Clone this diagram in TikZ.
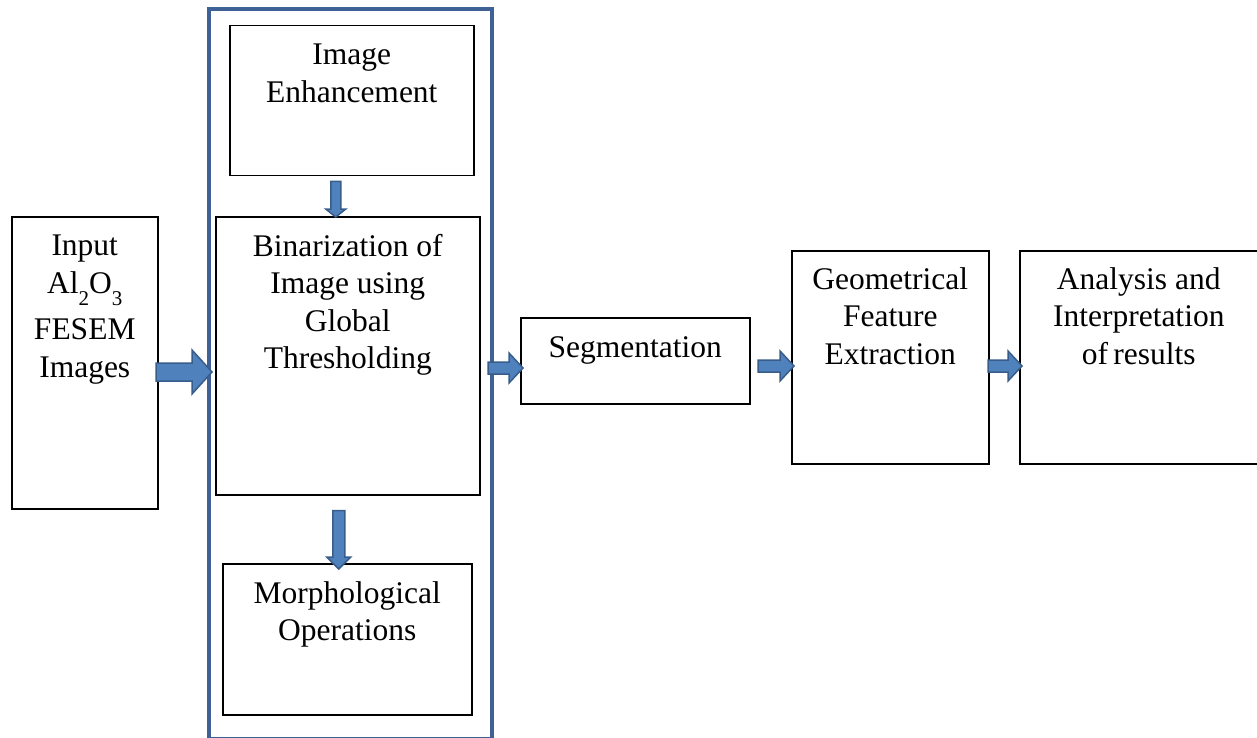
\documentclass[tikz,border=0pt]{standalone}
\usepackage{fontspec}
\setmainfont{Liberation Serif}
\usetikzlibrary{calc}
\definecolor{outerblue}{RGB}{62,98,150}
\definecolor{arrfill}{RGB}{79,129,189}
\definecolor{arrdraw}{RGB}{56,93,138}
\tikzset{
  box/.style={draw=black, line width=1.5pt, rectangle, inner sep=0pt},
  lbl/.style={anchor=north, align=center, inner sep=0pt, font=\fontsize{31.5}{37.5}\selectfont},
  barrow/.style={fill=arrfill, draw=arrdraw, line width=1.5pt, line join=miter},
}
% horizontal block arrow: #1 start point, #2 end point, shaft half, head half, head length
\newcommand{\blockH}[5]{%
  \draw[barrow] let \p1=#1, \p2=#2 in
   (\x1,\y1+#3) -- (\x2-#5,\y1+#3) -- (\x2-#5,\y1+#4) -- (\x2,\y1) --
   (\x2-#5,\y1-#4) -- (\x2-#5,\y1-#3) -- (\x1,\y1-#3) -- cycle;}
% vertical (downward) block arrow
\newcommand{\blockV}[5]{%
  \draw[barrow] let \p1=#1, \p2=#2 in
   (\x1+#3,\y1) -- (\x1+#3,\y2+#5) -- (\x1+#4,\y2+#5) -- (\x1,\y2) --
   (\x1-#4,\y2+#5) -- (\x1-#3,\y2+#5) -- (\x1-#3,\y1) -- cycle;}
\newcommand{\sub}[1]{\raisebox{-0.4em}{\fontsize{21}{21}\selectfont #1}}
\begin{document}
\begin{tikzpicture}[x=1pt,y=-1pt]
\useasboundingbox (0,0) rectangle (1257,738);
% outer group box
\node[draw=outerblue, line width=4pt, minimum width=283pt, minimum height=730pt, anchor=north west, inner sep=0pt] (grp) at (207,7) {};
% boxes
\node[box, minimum width=146pt, minimum height=292pt, anchor=north west] (inp) at (11,216) {};
\node[box, minimum width=244pt, minimum height=150pt, anchor=north west] (enh) at (229,25) {};
\node[box, minimum width=264pt, minimum height=278pt, anchor=north west] (bin) at (215,216) {};
\node[box, minimum width=249pt, minimum height=151pt, anchor=north west] (mor) at (222,563) {};
\node[box, minimum width=229pt, minimum height=86pt, anchor=north west] (seg) at (520,317) {};
\node[box, minimum width=197pt, minimum height=213pt, anchor=north west] (geo) at (791,250) {};
\node[box, minimum width=238pt, minimum height=213pt, anchor=north west] (ana) at (1019,250) {};
% labels
\node[lbl] (inpt) at ($(inp.north)+(0,19)$) {Input\\Al\sub{2}O\sub{3}\\[9pt]FESEM\\Images};
\node[lbl] (enht) at ($(enh.north)+(0,19)$) {Image\\Enhancement};
\node[lbl] (bint) at ($(bin.north)+(0,18)$) {Binarization of\\Image using\\Global\\Thresholding};
\node[lbl] (mort) at ($(mor.north)+(0,18)$) {Morphological\\Operations};
\node[lbl] (segt) at ($(seg.north)+(0,19)$) {Segmentation};
\node[lbl] (geot) at ($(geo.north)+(0,17)$) {Geometrical\\Feature\\Extraction};
\node[lbl] (anat) at ($(ana.north)+(0,17)$) {Analysis and\\Interpretation\\of\,results};
% connectors
\coordinate (a1s) at (156,372);
\coordinate (a1e) at ($(grp.west)+(5,0)$);
\blockH{(a1s)}{(a1e)}{9}{22}{20}
\coordinate (a2s) at ($(enh.south)+(-16,5)$);
\coordinate (a2e) at ($(bin.north)+(0,1)$);
\blockV{(a2s)}{(a2e)}{5}{10}{8}
\coordinate (a3s) at ($(bin.south)+(-9,15)$);
\coordinate (a3e) at ($(mor.north)+(0,6)$);
\blockV{(a3s)}{(a3e)}{6}{12}{12}
\coordinate (a4s) at (488,368);
\coordinate (a4e) at ($(seg.west)+(3,0)$);
\blockH{(a4s)}{(a4e)}{6}{15}{14}
\coordinate (a5s) at (758,366);
\coordinate (a5e) at ($(geo.west)+(3,0)$);
\blockH{(a5s)}{(a5e)}{6}{15}{14}
\coordinate (a6s) at (988,366);
\coordinate (a6e) at ($(ana.west)+(3,0)$);
\blockH{(a6s)}{(a6e)}{6}{15}{14}
\end{tikzpicture}
\end{document}
